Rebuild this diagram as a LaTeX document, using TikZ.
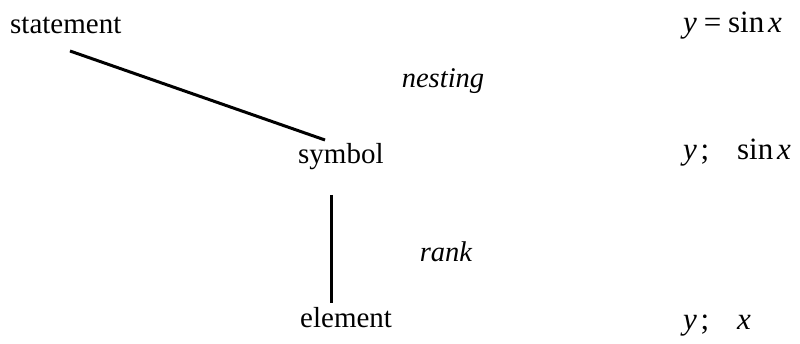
\documentclass[tikz,border=0pt]{standalone}
\usepackage{fontspec}
\setmainfont{Liberation Serif}
\begin{document}
\begin{tikzpicture}[x=1pt,y=-1pt,
  lbl/.style={inner sep=0pt,anchor=base west,font=\fontsize{29}{34}\selectfont},
  itl/.style={inner sep=0pt,anchor=base,font=\fontsize{28.5}{34}\selectfont\itshape},
  mth/.style={inner sep=0pt,anchor=base west,font=\fontsize{31}{36}\selectfont},
  conn/.style={line width=3pt}]
\useasboundingbox (0,0) rectangle (800,344);
\node[lbl] (statement) at (10,34) {statement};
\node[lbl] (symbol) at (298,164) {symbol};
\node[lbl] (element) at (300,328) {element};
\node[itl] (nesting) at (443,88) {nesting};
\node[itl] (rank) at (446,262) {rank};
\node[mth] (eq1) at (683,33) {\textit{y}\hspace{0.22em}=\hspace{0.22em}sin\hspace{0.12em}\textit{x}};
\node[mth] (eq2) at (683,160) {\textit{y}\hspace{0.12em};\hspace{0.9em}sin\hspace{0.12em}\textit{x}};
\node[mth] (eq3) at (683,330) {\textit{y}\hspace{0.12em};\hspace{0.9em}\textit{x}};
\coordinate (a1) at (70,51);
\coordinate (a2) at (325,140);
\coordinate (b1) at (331,195);
\coordinate (b2) at (331,303);
\draw[conn] (a1) -- (a2);
\draw[conn] (b1) -- (b2);
\end{tikzpicture}
\end{document}
